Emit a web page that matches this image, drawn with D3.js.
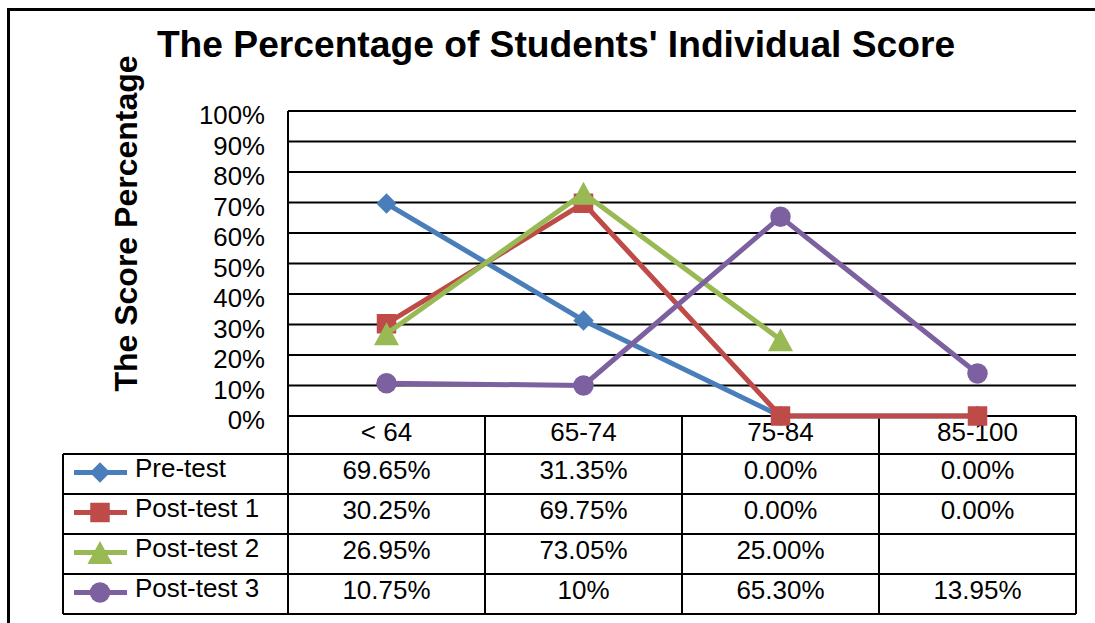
<!DOCTYPE html>
<html>
<head>
<meta charset="utf-8">
<script src="https://cdn.jsdelivr.net/npm/d3@7/dist/d3.min.js"></script>
<style>
  html, body { margin: 0; padding: 0; background: #fff; }
  svg { display: block; font-family: "Liberation Sans", Arial, sans-serif; }
</style>
</head>
<body>
<svg id="chart" width="1095" height="623"></svg>
<script>
// ---- data ----
const categories = ["< 64", "65-74", "75-84", "85-100"];
const seriesNames = ["Pre-test", "Post-test 1", "Post-test 2", "Post-test 3"];
const preTest   = [69.65, 31.35, 0.00, 0.00];
const postTest1 = [30.25, 69.75, 0.00, 0.00];
const postTest2 = [26.95, 73.05, 25.00, null];
const postTest3 = [10.75, 10.00, 65.30, 13.95];
const tableLabels = [
  ["69.65%", "31.35%", "0.00%", "0.00%"],
  ["30.25%", "69.75%", "0.00%", "0.00%"],
  ["26.95%", "73.05%", "25.00%", ""],
  ["10.75%", "10%", "65.30%", "13.95%"]
];
const yTicks = [0, 10, 20, 30, 40, 50, 60, 70, 80, 90, 100];
const titleText = "The Percentage of Students' Individual Score";
const yTitleText = "The Score Percentage";

const seriesValues = [preTest, postTest1, postTest2, postTest3];
const colors = ["#4A7EBB", "#BE4B48", "#98B954", "#7D60A0"];
const shapes = ["diamond", "square", "triangle", "circle"];

// ---- layout ----
const svg = d3.select("#chart");
svg.append("rect").attr("width", 1095).attr("height", 623).attr("fill", "#fff");
svg.append("rect").attr("x", 8.5).attr("y", 9.5).attr("width", 1200).attr("height", 800)
   .attr("fill", "none").attr("stroke", "#000").attr("stroke-width", 3);

const plotL = 288, plotR = 1076, plotT = 111, plotB = 416;
const x = d3.scaleBand().domain(categories).range([plotL, plotR]);
const y = d3.scaleLinear().domain([0, 100]).range([plotB, plotT]);

// title
svg.append("text").attr("x", 556).attr("y", 57).attr("text-anchor", "middle")
   .attr("font-size", 37.2).attr("font-weight", "bold").text(titleText);

// y title
svg.append("text").attr("transform", "translate(137,223.5) rotate(-90)")
   .attr("text-anchor", "middle").attr("font-size", 32).attr("font-weight", "bold")
   .text(yTitleText);

// gridlines
svg.append("g").selectAll("line").data(yTicks).join("line")
   .attr("x1", plotL).attr("x2", plotR)
   .attr("y1", d => y(d)).attr("y2", d => y(d))
   .attr("stroke", "#000").attr("stroke-width", 2);

// tick labels
svg.append("g").selectAll("text").data(yTicks).join("text")
   .attr("x", 265).attr("y", d => y(d) + 13)
   .attr("text-anchor", "end").attr("font-size", 25.8)
   .text(d => d + "%");

// table
const rowTops = [416, 454, 494, 534, 574, 614];
const tableLeft = 63;
const tg = svg.append("g").attr("stroke", "#000").attr("stroke-width", 2);
tg.append("line").attr("x1", plotL).attr("x2", plotL).attr("y1", plotT).attr("y2", rowTops[5]);
rowTops.forEach((ry, i) => {
  tg.append("line").attr("x1", i === 0 ? plotL : tableLeft).attr("x2", plotR)
    .attr("y1", ry).attr("y2", ry);
});
tg.append("line").attr("x1", tableLeft).attr("x2", tableLeft).attr("y1", rowTops[1]).attr("y2", rowTops[5]);
categories.forEach(c => {
  const xr = x(c) + x.bandwidth();
  tg.append("line").attr("x1", xr).attr("x2", xr).attr("y1", rowTops[0]).attr("y2", rowTops[5]);
});

// header labels
svg.append("g").selectAll("text").data(categories).join("text")
   .attr("x", d => x(d) + x.bandwidth() / 2).attr("y", rowTops[0] + 25)
   .attr("text-anchor", "middle").attr("font-size", 26).text(d => d);

function symbolPath(shape) {
  switch (shape) {
    case "diamond": return d3.symbol().type(d3.symbolSquare).size(210)();
    case "square": return d3.symbol().type(d3.symbolSquare).size(380)();
    case "triangle": {
      const w = 25, h = 23;
      return `M0,${-h / 2}L${w / 2},${h / 2}L${-w / 2},${h / 2}Z`;
    }
    case "circle": return d3.symbol().type(d3.symbolCircle).size(330)();
  }
}
function symbolTransform(shape, px, py) {
  return shape === "diamond" ? `translate(${px},${py}) rotate(45)` : `translate(${px},${py})`;
}

// data rows
seriesNames.forEach((name, i) => {
  const top = rowTops[i + 1];
  const cy = (top + rowTops[i + 2]) / 2 - 1.5;
  svg.append("line").attr("x1", 74).attr("x2", 127).attr("y1", cy).attr("y2", cy)
     .attr("stroke", colors[i]).attr("stroke-width", 5);
  svg.append("path").attr("d", symbolPath(shapes[i]))
     .attr("transform", symbolTransform(shapes[i], 100, cy)).attr("fill", colors[i]);
  svg.append("text").attr("x", 135).attr("y", top + 23).attr("font-size", 26).text(name);
  svg.append("g").selectAll("text").data(categories).join("text")
     .attr("x", d => x(d) + x.bandwidth() / 2).attr("y", top + 25)
     .attr("text-anchor", "middle").attr("font-size", 26)
     .text((d, j) => tableLabels[i][j]);
});

// lines and markers
seriesValues.forEach((vals, i) => {
  const pts = categories.map((c, j) => ({ c, v: vals[j] })).filter(p => p.v !== null);
  const line = d3.line().x(p => x(p.c) + x.bandwidth() / 2).y(p => y(p.v));
  const g = svg.append("g");
  g.append("path").attr("d", line(pts)).attr("fill", "none")
   .attr("stroke", colors[i]).attr("stroke-width", 5).attr("stroke-linejoin", "round");
  g.selectAll("path.m").data(pts).join("path").attr("class", "m")
   .attr("d", symbolPath(shapes[i]))
   .attr("transform", p => symbolTransform(shapes[i], x(p.c) + x.bandwidth() / 2, y(p.v)))
   .attr("fill", colors[i]);
});
</script>
</body>
</html>
